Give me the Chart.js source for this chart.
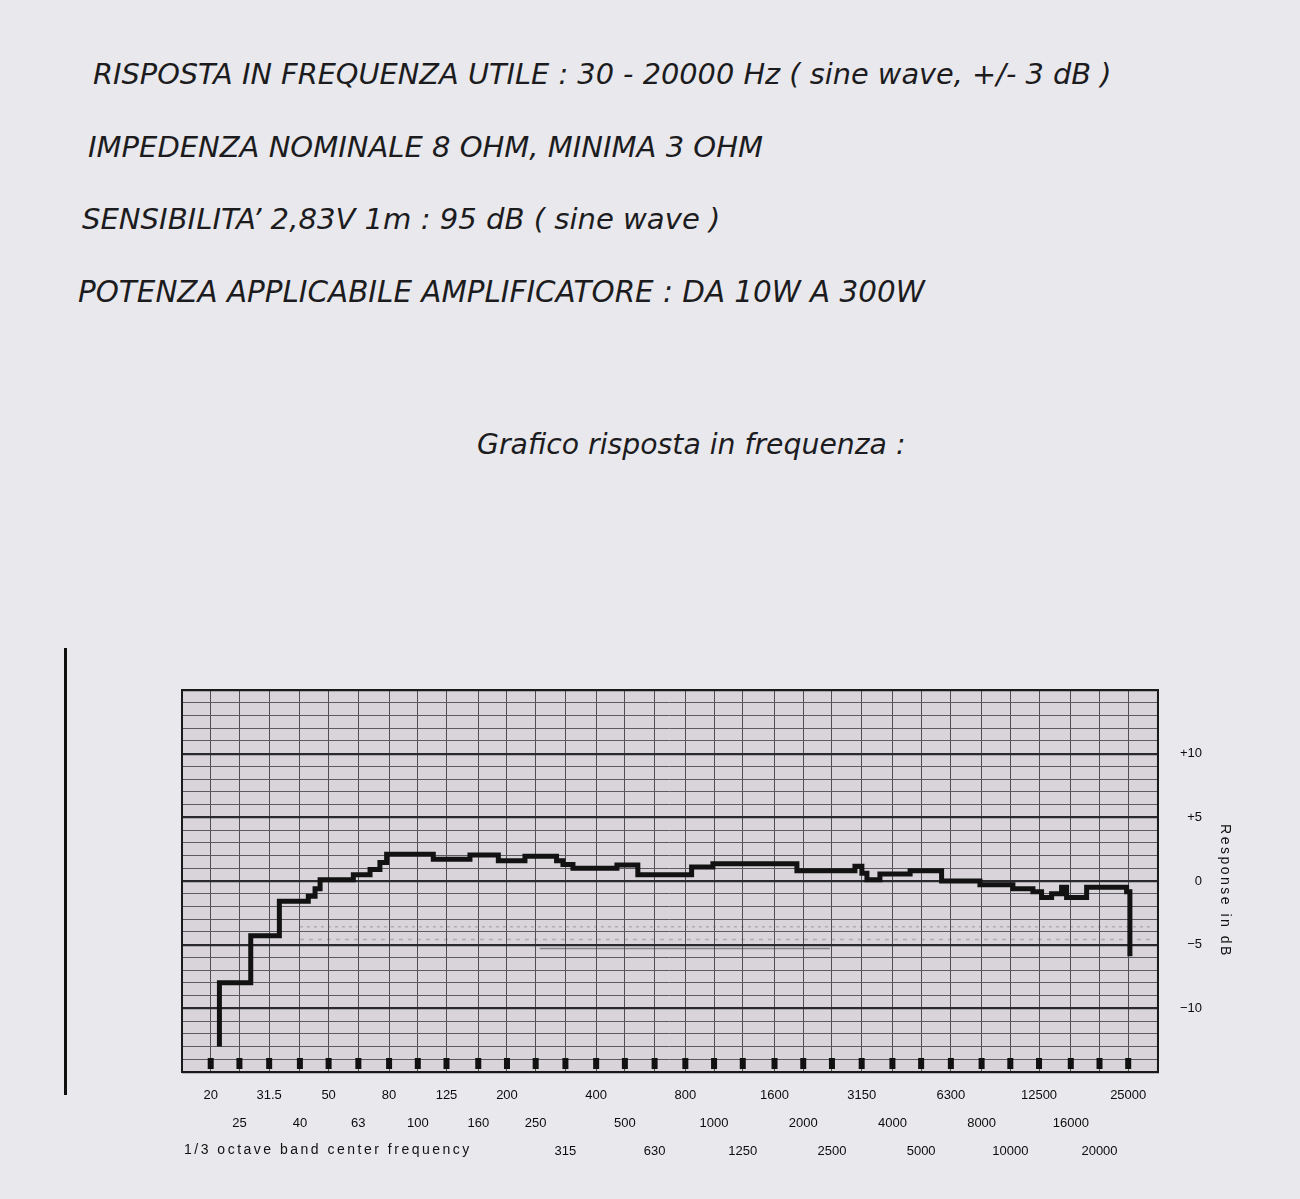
<!DOCTYPE html>
<html>
<head>
<meta charset="utf-8">
<script src="https://cdn.jsdelivr.net/npm/chart.js@4.4.0/dist/chart.umd.min.js"></script>
<style>
  html, body { margin: 0; padding: 0; }
  body { width: 1300px; height: 1199px; background: #e9e8ec; position: relative; overflow: hidden; font-family: "DejaVu Sans", sans-serif; }
  .riga { position: absolute; font-style: italic; font-size: 28px; line-height: 28px; color: #1c1c1e; white-space: nowrap; }
  #margine { position: absolute; left: 64px; top: 648px; width: 3px; height: 447px; background: #111; }
  #box { position: absolute; left: 150px; top: 670px; width: 1110px; height: 520px; }
</style>
</head>
<body>
<div class="riga" style="left:93px; top:60px; font-size:28.8px">RISPOSTA IN FREQUENZA UTILE : 30 - 20000 Hz ( sine wave, +/- 3 dB )</div>
<div class="riga" style="left:88px; top:133px; font-size:29px">IMPEDENZA NOMINALE 8 OHM, MINIMA 3 OHM</div>
<div class="riga" style="left:82px; top:205px; font-size:29.1px">SENSIBILITA’ 2,83V 1m : 95 dB ( sine wave )</div>
<div class="riga" style="left:78px; top:278px; font-size:29.4px">POTENZA APPLICABILE AMPLIFICATORE : DA 10W A 300W</div>
<div class="riga" style="left:477px; top:431px; font-size:28.3px">Grafico risposta in frequenza :</div>
<div id="margine"></div>
<div id="box"><canvas id="rispostaChart" width="1110" height="520"></canvas></div>

<script>
// bande 1/3 di ottava
const bandHz = [20, 25, 31.5, 40, 50, 63, 80, 100, 125, 160, 200, 250, 315, 400, 500, 630,
  800, 1000, 1250, 1600, 2000, 2500, 3150, 4000, 5000, 6300, 8000, 10000, 12500, 16000, 20000, 25000];
const bandLabels = ['20', '25', '31.5', '40', '50', '63', '80', '100', '125', '160', '200', '250', '315', '400', '500', '630',
  '800', '1000', '1250', '1600', '2000', '2500', '3150', '4000', '5000', '6300', '8000', '10000', '12500', '16000', '20000', '25000'];
// riga (0,1,2) in cui sta ogni etichetta
const labelRow = [0, 1, 0, 1, 0, 1, 0, 1, 0, 1, 0, 1, 2, 0, 1, 2, 0, 1, 2, 0, 1, 2, 0, 1, 2, 0, 1, 2, 0, 1, 2, 0];

// traccia del registratore (inizio di ogni gradino)
const traceHz = [21.4, 21.4, 27.3, 34.1, 42.7, 45, 46.8, 60.6, 69, 74.5, 78.5, 112.8, 150, 187, 230, 294, 309, 334, 470, 553,
  840, 991, 1904, 2989, 3155, 3281, 3630, 4590, 5862, 7896, 10203, 11920, 12750, 13784, 14896, 15486, 18096, 24690, 25330];
const traceDb = [-13, -8, -4.3, -1.6, -1.2, -0.6, 0.1, 0.5, 0.9, 1.45, 2.1, 1.7, 2.05, 1.6, 1.95, 1.6, 1.3, 1.0, 1.25, 0.5,
  1.1, 1.35, 0.8, 1.15, 0.6, 0.1, 0.55, 0.8, 0.0, -0.3, -0.6, -0.85, -1.3, -1.0, -0.5, -1.3, -0.5, -0.85, -5.9];

// tracce sbiadite sotto la curva
const ghostHz = [40, 30000];
const ghostDbA = [-3.6, -3.6];
const ghostDbB = [-4.6, -4.6];
const ghostHzC = [258, 2460];
const ghostDbC = [-5.3, -5.3];

const yLabelValues = [10, 5, 0, -5, -10];
const yLabelTexts = ['+10', '+5', '0', '−5', '−10'];

function punti(xs, ys) {
  return xs.map((x, i) => ({ x: x, y: ys[i] }));
}

function rigaEtichetta(i) {
  const righe = [];
  for (let r = 0; r < labelRow[i]; r++) righe.push('');
  righe.push(bandLabels[i]);
  return righe;
}

const cornice = {
  id: 'cornice',
  beforeDraw(chart) {
    const a = chart.chartArea, c = chart.ctx;
    c.save();
    c.fillStyle = '#d8d4d9';
    c.fillRect(a.left, a.top, a.right - a.left, a.bottom - a.top);
    c.restore();
  },
  beforeDatasetsDraw(chart) {
    const a = chart.chartArea, c = chart.ctx, sx = chart.scales.x;
    c.save();
    c.fillStyle = '#111';
    bandHz.forEach(f => {
      const px = sx.getPixelForValue(f);
      c.fillRect(px - 3, a.bottom - 14, 6, 11);
    });
    c.restore();
  },
  afterDraw(chart) {
    const a = chart.chartArea, c = chart.ctx;
    c.save();
    c.strokeStyle = '#1a1a1a';
    c.lineWidth = 2;
    c.strokeRect(a.left, a.top, a.right - a.left, a.bottom - a.top);
    c.fillStyle = '#111';
    c.letterSpacing = '2.5px';
    c.font = '14px "Liberation Sans"';
    c.textBaseline = 'middle';
    c.textAlign = 'left';
    c.fillText('1/3 octave band center frequency', a.left + 2, a.bottom + 78);
    c.translate(a.right + 67, (a.top + a.bottom) / 2 + 10);
    c.rotate(Math.PI / 2);
    c.textAlign = 'center';
    c.fillText('Response in dB', 0, 0);
    c.restore();
  }
};

const ctxRisposta = document.getElementById('rispostaChart').getContext('2d');

new Chart(ctxRisposta, {
  type: 'line',
  data: {
    datasets: [{
      label: 'Risposta',
      data: punti(traceHz, traceDb),
      stepped: true,
      borderColor: '#121212',
      borderWidth: 5,
      pointRadius: 0,
      fill: false
    }, {
      label: 'a',
      data: punti(ghostHz, ghostDbA),
      borderColor: 'rgba(80,80,90,0.3)',
      borderDash: [3, 4],
      borderWidth: 1.5,
      pointRadius: 0
    }, {
      label: 'b',
      data: punti(ghostHz, ghostDbB),
      borderColor: 'rgba(80,80,90,0.3)',
      borderDash: [4, 5],
      borderWidth: 1.5,
      pointRadius: 0
    }, {
      label: 'c',
      data: punti(ghostHzC, ghostDbC),
      borderColor: 'rgba(60,60,70,0.55)',
      borderWidth: 1.5,
      pointRadius: 0
    }]
  },
  options: {
    responsive: false,
    animation: false,
    layout: { padding: { left: 32, top: 20, right: 58, bottom: 16 } },
    plugins: {
      legend: { display: false },
      tooltip: { enabled: false }
    },
    scales: {
      x: {
        type: 'logarithmic',
        min: 16,
        max: 31500,
        afterBuildTicks: axis => { axis.ticks = bandHz.map(v => ({ value: v })); },
        grid: { color: '#4e4e52', lineWidth: 1, drawTicks: false },
        border: { display: true, color: '#1a1a1a', width: 2 },
        ticks: {
          autoSkip: false,
          maxRotation: 0,
          minRotation: 0,
          padding: 9,
          color: '#0c0c0c',
          font: { family: 'Liberation Sans', size: 13, lineHeight: '28px' },
          callback: (v, i) => rigaEtichetta(i)
        }
      },
      y: {
        position: 'right',
        min: -15,
        max: 15,
        grid: {
          drawTicks: false,
          color: c => c.tick && c.tick.value % 5 === 0 ? '#2a2a2e' : '#5a5a60',
          lineWidth: c => c.tick && c.tick.value % 5 === 0 ? 2.2 : 1
        },
        border: { display: true, color: '#1a1a1a', width: 2 },
        ticks: {
          stepSize: 1,
          autoSkip: false,
          padding: 11,
          crossAlign: 'far',
          color: '#0c0c0c',
          font: { family: 'Liberation Sans', size: 13 },
          callback: v => {
            const k = yLabelValues.indexOf(v);
            return k >= 0 ? yLabelTexts[k] : '';
          }
        }
      }
    }
  },
  plugins: [cornice]
});
</script>
</body>
</html>
